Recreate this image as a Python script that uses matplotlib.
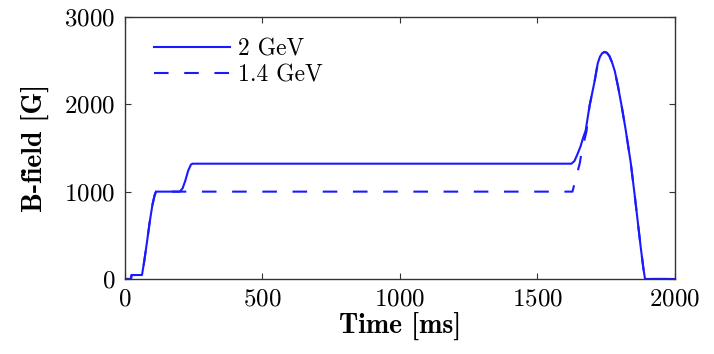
import matplotlib
matplotlib.use("Agg")
import matplotlib.pyplot as plt

plt.rcParams["font.family"] = ["cmr10", "DejaVu Serif"]
plt.rcParams["axes.formatter.use_mathtext"] = True

# magnet cycle, 2 GeV extraction
t_2gev = [0, 22, 24, 62, 70, 80, 90, 100, 108, 113, 200, 210, 220, 230, 240, 246,
          1624, 1635, 1645, 1657, 1667, 1676, 1690, 1708, 1720, 1728, 1736, 1745,
          1753, 1762, 1772, 1782, 1794, 1808, 1822, 1840, 1855, 1876, 1886, 1892, 2000]
b_2gev = [0, 0, 45, 45, 200, 420, 650, 850, 960, 1000, 1000, 1040, 1130, 1240, 1310, 1320,
          1320, 1350, 1420, 1515, 1620, 1700, 1980, 2256, 2470, 2545, 2585, 2600,
          2590, 2555, 2480, 2380, 2200, 1960, 1700, 1330, 943, 370, 120, 0, 0]

# magnet cycle, 1.4 GeV extraction
t_14gev = [0, 22, 24, 62, 70, 80, 90, 100, 108, 113, 1628, 1640, 1655, 1662, 1679, 1690,
           1708, 1720, 1728, 1736, 1745, 1753, 1762, 1772, 1782, 1794, 1808, 1822,
           1840, 1855, 1876, 1886, 1892, 2000]
b_14gev = [0, 0, 45, 45, 200, 420, 650, 850, 960, 1000, 1000, 1150, 1330, 1470, 1690, 1980,
           2256, 2470, 2545, 2585, 2600, 2590, 2555, 2480, 2380, 2200, 1960, 1700,
           1330, 943, 370, 120, 0, 0]

fig = plt.figure(figsize=(7.14, 3.54), dpi=100)
ax = fig.add_axes([0.175, 0.212, 0.770, 0.740])

ax.plot(t_2gev, b_2gev, color="#1a1aff", lw=1.5, label="2 GeV")
ax.plot(t_14gev, b_14gev, color="#1a1aff", lw=1.5, ls=(0, (7, 7.5)), label="1.4 GeV")

ax.set_xlim(0, 2000)
ax.set_ylim(0, 3000)
ax.set_xticks([0, 500, 1000, 1500, 2000])
ax.set_yticks([0, 1000, 2000, 3000])
ax.tick_params(direction="in", top=True, right=True, labelsize=18, length=4,
               color="#333333", pad=7)
for s in ax.spines.values():
    s.set_color("#333333")
    s.set_linewidth(1.0)

ax.set_xlabel("Time [ms]", fontfamily="cmb10", fontsize=20, labelpad=1)
ax.set_ylabel("B-field [G]", fontfamily="cmb10", fontsize=20, labelpad=11)

ax.legend(loc="upper left", bbox_to_anchor=(0.015, 1.0), frameon=False,
          fontsize=17, handlelength=3.2, handletextpad=0.35, labelspacing=0.15,
          borderaxespad=0.5, borderpad=0.4)

fig.savefig("out.png", dpi=100)
